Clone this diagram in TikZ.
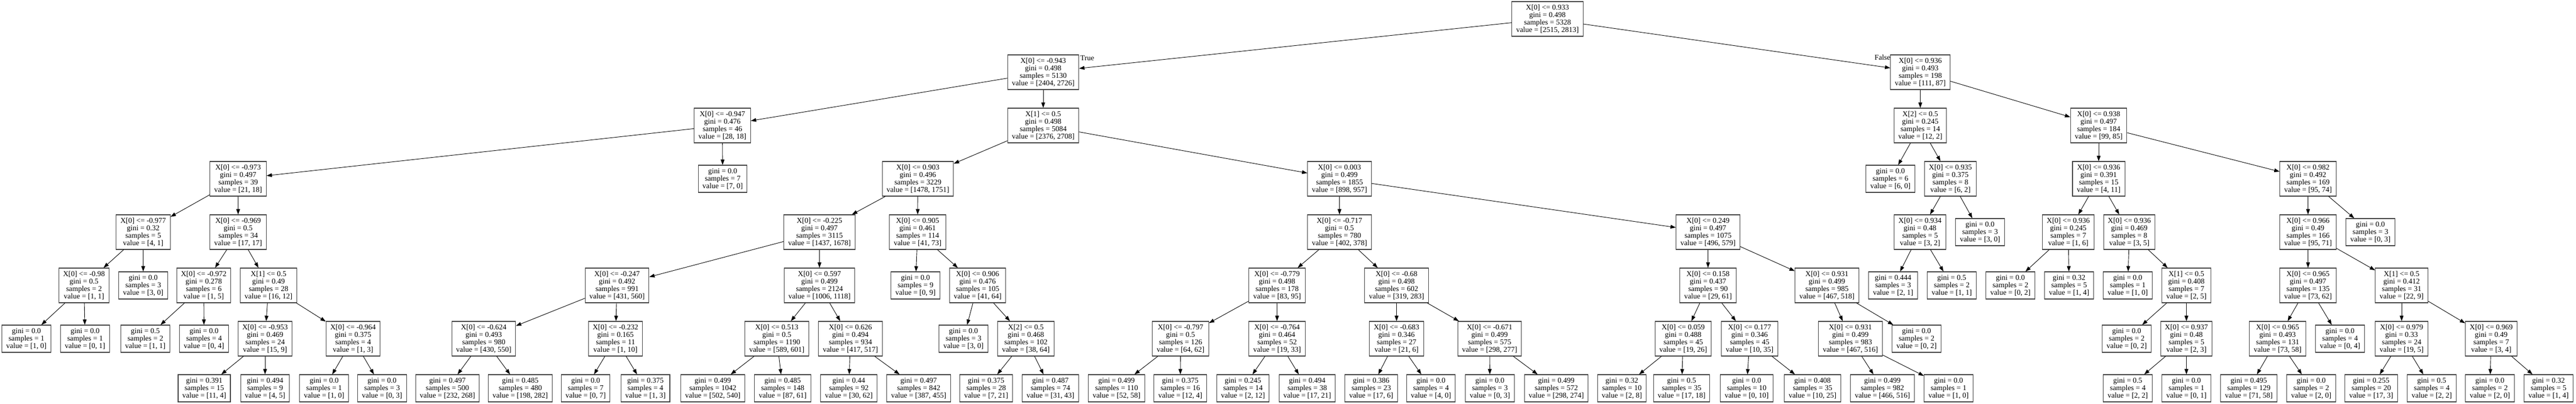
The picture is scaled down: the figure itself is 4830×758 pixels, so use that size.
\documentclass[tikz,border=0pt]{standalone}
\usepackage{fontspec}
\setmainfont{Liberation Serif}
\usetikzlibrary{arrows.meta}
\tikzset{
 treebox/.style={draw=black!75, line width=1.1bp, rectangle, align=center, inner xsep=8bp, inner ysep=0bp, font=\fontsize{14bp}{14bp}\selectfont, fill=white, text=black},
 intbox/.style={treebox, minimum height=65bp},
 leafbox/.style={treebox, minimum height=51bp},
 treeedge/.style={draw=black, line width=0.9bp, -{Triangle[length=10bp,width=7bp]}},
 lbl/.style={font=\fontsize{14bp}{14bp}\selectfont, inner sep=0pt, text=black}
}
\newcommand\mkint[7]{\node[intbox] (#1) at (#2,#3) {#4\\gini = #5\\samples = #6\\value = [#7]};}
\newcommand\mkleaf[6]{\node[leafbox] (#1) at (#2,#3) {gini = #4\\samples = #5\\value = [#6]};}
\begin{document}
\begin{tikzpicture}[x=1bp,y=-1bp]
\useasboundingbox (0,0) rectangle (4830,758);
% level 0
\mkint{root}{2901.5}{35.5}{X[0] <= 0.933}{0.498}{5328}{2515, 2813}
% level 1
\mkint{n1}{1956}{135.5}{X[0] <= -0.943}{0.498}{5130}{2404, 2726}
\mkint{n2}{3600.5}{135.5}{X[0] <= 0.936}{0.493}{198}{111, 87}
% level 2
\mkint{n3}{1354.5}{235.5}{X[0] <= -0.947}{0.476}{46}{28, 18}
\mkint{n4}{1956}{235.5}{X[1] <= 0.5}{0.498}{5084}{2376, 2708}
\mkint{n5}{3600.5}{235.5}{X[2] <= 0.5}{0.245}{14}{12, 2}
\mkint{n6}{3935}{235.5}{X[0] <= 0.938}{0.497}{184}{99, 85}
% level 3
\mkint{n7}{446.5}{335.5}{X[0] <= -0.973}{0.497}{39}{21, 18}
\mkleaf{n8}{1355}{335.5}{0.0}{7}{7, 0}
\mkint{n9}{1721}{335.5}{X[0] <= 0.903}{0.496}{3229}{1478, 1751}
\mkint{n10}{2511.5}{335.5}{X[0] <= 0.003}{0.499}{1855}{898, 957}
\mkleaf{n11}{3544.5}{335.5}{0.0}{6}{6, 0}
\mkint{n12}{3657}{335.5}{X[0] <= 0.935}{0.375}{8}{6, 2}
\mkint{n13}{3935}{335.5}{X[0] <= 0.936}{0.391}{15}{4, 11}
\mkint{n14}{4327.5}{335.5}{X[0] <= 0.982}{0.492}{169}{95, 74}
% level 4
\mkint{n15}{268.5}{435.5}{X[0] <= -0.977}{0.32}{5}{4, 1}
\mkint{n16}{446.5}{435.5}{X[0] <= -0.969}{0.5}{34}{17, 17}
\mkint{n17}{1536.5}{435.5}{X[0] <= -0.225}{0.497}{3115}{1437, 1678}
\mkint{n18}{1720.5}{435.5}{X[0] <= 0.905}{0.461}{114}{41, 73}
\mkint{n19}{2511.5}{435.5}{X[0] <= -0.717}{0.5}{780}{402, 378}
\mkint{n20}{3202.5}{435.5}{X[0] <= 0.249}{0.497}{1075}{496, 579}
\mkint{n21}{3600}{435.5}{X[0] <= 0.934}{0.48}{5}{3, 2}
\mkleaf{n22}{3712.5}{435.5}{0.0}{3}{3, 0}
\mkint{n23}{3878}{435.5}{X[0] <= 0.936}{0.245}{7}{1, 6}
\mkint{n24}{3992.5}{435.5}{X[0] <= 0.936}{0.469}{8}{3, 5}
\mkint{n25}{4327.5}{435.5}{X[0] <= 0.966}{0.49}{166}{95, 71}
\mkleaf{n26}{4444.5}{435.5}{0.0}{3}{0, 3}
% level 5
\mkint{n27}{157.5}{535.5}{X[0] <= -0.98}{0.5}{2}{1, 1}
\mkleaf{n28}{268.5}{535.5}{0.0}{3}{3, 0}
\mkint{n29}{382}{535.5}{X[0] <= -0.972}{0.278}{6}{1, 5}
\mkint{n30}{503.5}{535.5}{X[1] <= 0.5}{0.49}{28}{16, 12}
\mkint{n31}{1157}{535.5}{X[0] <= -0.247}{0.492}{991}{431, 560}
\mkint{n32}{1536.5}{535.5}{X[0] <= 0.597}{0.499}{2124}{1006, 1118}
\mkleaf{n33}{1716.5}{535.5}{0.0}{9}{0, 9}
\mkint{n34}{1833}{535.5}{X[0] <= 0.906}{0.476}{105}{41, 64}
\mkint{n35}{2394.5}{535.5}{X[0] <= -0.779}{0.498}{178}{83, 95}
\mkint{n36}{2618.5}{535.5}{X[0] <= -0.68}{0.498}{602}{319, 283}
\mkint{n37}{3202.5}{535.5}{X[0] <= 0.158}{0.437}{90}{29, 61}
\mkint{n38}{3425.5}{535.5}{X[0] <= 0.931}{0.499}{985}{467, 518}
\mkleaf{n39}{3549.5}{535.5}{0.444}{3}{2, 1}
\mkleaf{n40}{3659.5}{535.5}{0.5}{2}{1, 1}
\mkleaf{n41}{3769.5}{535.5}{0.0}{2}{0, 2}
\mkleaf{n42}{3879.5}{535.5}{0.32}{5}{1, 4}
\mkleaf{n43}{3989.5}{535.5}{0.0}{1}{1, 0}
\mkint{n44}{4099.5}{535.5}{X[1] <= 0.5}{0.408}{7}{2, 5}
\mkint{n45}{4327.5}{535.5}{X[0] <= 0.965}{0.497}{135}{73, 62}
\mkint{n46}{4503}{535.5}{X[1] <= 0.5}{0.412}{31}{22, 9}
% level 6
\mkleaf{n47}{49.5}{635.5}{0.0}{1}{1, 0}
\mkleaf{n48}{159.5}{635.5}{0.0}{1}{0, 1}
\mkleaf{n49}{272.5}{635.5}{0.5}{2}{1, 1}
\mkleaf{n50}{382.5}{635.5}{0.0}{4}{0, 4}
\mkint{n51}{497}{635.5}{X[0] <= -0.953}{0.469}{24}{15, 9}
\mkint{n52}{662}{635.5}{X[0] <= -0.964}{0.375}{4}{1, 3}
\mkint{n53}{907}{635.5}{X[0] <= -0.624}{0.493}{980}{430, 550}
\mkint{n54}{1154}{635.5}{X[0] <= -0.232}{0.165}{11}{1, 10}
\mkint{n55}{1456.5}{635.5}{X[0] <= 0.513}{0.5}{1190}{589, 601}
\mkint{n56}{1594.5}{635.5}{X[0] <= 0.626}{0.494}{934}{417, 517}
\mkleaf{n57}{1806.5}{635.5}{0.0}{3}{3, 0}
\mkint{n58}{1923.5}{635.5}{X[2] <= 0.5}{0.468}{102}{38, 64}
\mkint{n59}{2213.5}{635.5}{X[0] <= -0.797}{0.5}{126}{64, 62}
\mkint{n60}{2394.5}{635.5}{X[0] <= -0.764}{0.464}{52}{19, 33}
\mkint{n61}{2618.5}{635.5}{X[0] <= -0.683}{0.346}{27}{21, 6}
\mkint{n62}{2793}{635.5}{X[0] <= -0.671}{0.499}{575}{298, 277}
\mkint{n63}{3156}{635.5}{X[0] <= 0.059}{0.488}{45}{19, 26}
\mkint{n64}{3280.5}{635.5}{X[0] <= 0.177}{0.346}{45}{10, 35}
\mkint{n65}{3469.5}{635.5}{X[0] <= 0.931}{0.499}{983}{467, 516}
\mkleaf{n66}{3593.5}{635.5}{0.0}{2}{0, 2}
\mkleaf{n67}{3987.5}{635.5}{0.0}{2}{0, 2}
\mkint{n68}{4099.5}{635.5}{X[0] <= 0.937}{0.48}{5}{2, 3}
\mkint{n69}{4270.5}{635.5}{X[0] <= 0.965}{0.493}{131}{73, 58}
\mkleaf{n70}{4387.5}{635.5}{0.0}{4}{0, 4}
\mkint{n71}{4503}{635.5}{X[0] <= 0.979}{0.33}{24}{19, 5}
\mkint{n72}{4671}{635.5}{X[0] <= 0.969}{0.49}{7}{3, 4}
% level 7
\mkleaf{n73}{383}{728.5}{0.391}{15}{11, 4}
\mkleaf{n74}{497}{728.5}{0.494}{9}{4, 5}
\mkleaf{n75}{607.7}{728.5}{0.0}{1}{1, 0}
\mkleaf{n76}{716.3}{728.5}{0.0}{3}{0, 3}
\mkleaf{n77}{838.9}{728.5}{0.497}{500}{232, 268}
\mkleaf{n78}{975.5}{728.5}{0.485}{480}{198, 282}
\mkleaf{n79}{1098.1}{728.5}{0.0}{7}{0, 7}
\mkleaf{n80}{1210.2}{728.5}{0.375}{4}{1, 3}
\mkleaf{n81}{1336.5}{728.5}{0.499}{1042}{502, 540}
\mkleaf{n82}{1467.5}{728.5}{0.485}{148}{87, 61}
\mkleaf{n83}{1591.5}{728.5}{0.44}{92}{30, 62}
\mkleaf{n84}{1722.5}{728.5}{0.497}{842}{387, 455}
\mkleaf{n85}{1849}{728.5}{0.375}{28}{7, 21}
\mkleaf{n86}{1969.5}{728.5}{0.487}{74}{31, 43}
\mkleaf{n87}{2093.5}{728.5}{0.499}{110}{52, 58}
\mkleaf{n88}{2213}{728.5}{0.375}{16}{12, 4}
\mkleaf{n89}{2330.5}{728.5}{0.245}{14}{2, 12}
\mkleaf{n90}{2451}{728.5}{0.494}{38}{17, 21}
\mkleaf{n91}{2571}{728.5}{0.386}{23}{17, 6}
\mkleaf{n92}{2683}{728.5}{0.0}{4}{4, 0}
\mkleaf{n93}{2793.5}{728.5}{0.0}{3}{0, 3}
\mkleaf{n94}{2918}{728.5}{0.499}{572}{298, 274}
\mkleaf{n95}{3041}{728.5}{0.32}{10}{2, 8}
\mkleaf{n96}{3153}{728.5}{0.5}{35}{17, 18}
\mkleaf{n97}{3275}{728.5}{0.0}{10}{0, 10}
\mkleaf{n98}{3398.5}{728.5}{0.408}{35}{10, 25}
\mkleaf{n99}{3529.5}{728.5}{0.499}{982}{466, 516}
\mkleaf{n100}{3653.5}{728.5}{0.0}{1}{1, 0}
\mkleaf{n101}{3989.5}{728.5}{0.5}{4}{2, 2}
\mkleaf{n102}{4099.5}{728.5}{0.0}{1}{0, 1}
\mkleaf{n103}{4216.5}{728.5}{0.495}{129}{71, 58}
\mkleaf{n104}{4333.5}{728.5}{0.0}{2}{2, 0}
\mkleaf{n105}{4446}{728.5}{0.255}{20}{17, 3}
\mkleaf{n106}{4559.5}{728.5}{0.5}{4}{2, 2}
\mkleaf{n107}{4668.5}{728.5}{0.0}{2}{2, 0}
\mkleaf{n108}{4778.5}{728.5}{0.32}{5}{1, 4}
% edge labels
\node[lbl] (ltrue) at (2038.5,109) {True};
\node[lbl] (lfalse) at (3529.5,108) {False};
% edges
\foreach \p/\c in {root/n1,root/n2,n1/n3,n1/n4,n2/n5,n2/n6,n3/n7,n3/n8,n4/n9,n4/n10,
 n5/n11,n5/n12,n6/n13,n6/n14,n7/n15,n7/n16,n9/n17,n9/n18,n10/n19,n10/n20,
 n12/n21,n12/n22,n13/n23,n13/n24,n14/n25,n14/n26,n15/n27,n15/n28,n16/n29,n16/n30,
 n17/n31,n17/n32,n18/n33,n18/n34,n19/n35,n19/n36,n20/n37,n20/n38,n21/n39,n21/n40,
 n23/n41,n23/n42,n24/n43,n24/n44,n25/n45,n25/n46,n27/n47,n27/n48,n29/n49,n29/n50,
 n30/n51,n30/n52,n31/n53,n31/n54,n32/n55,n32/n56,n34/n57,n34/n58,n35/n59,n35/n60,
 n36/n61,n36/n62,n37/n63,n37/n64,n38/n65,n38/n66,n44/n67,n44/n68,n45/n69,n45/n70,
 n46/n71,n46/n72,n51/n73,n51/n74,n52/n75,n52/n76,n53/n77,n53/n78,n54/n79,n54/n80,
 n55/n81,n55/n82,n56/n83,n56/n84,n58/n85,n58/n86,n59/n87,n59/n88,n60/n89,n60/n90,
 n61/n91,n61/n92,n62/n93,n62/n94,n63/n95,n63/n96,n64/n97,n64/n98,n65/n99,n65/n100,
 n68/n101,n68/n102,n69/n103,n69/n104,n71/n105,n71/n106,n72/n107,n72/n108}
 \draw[treeedge] (\p) -- (\c);
\end{tikzpicture}
\end{document}
